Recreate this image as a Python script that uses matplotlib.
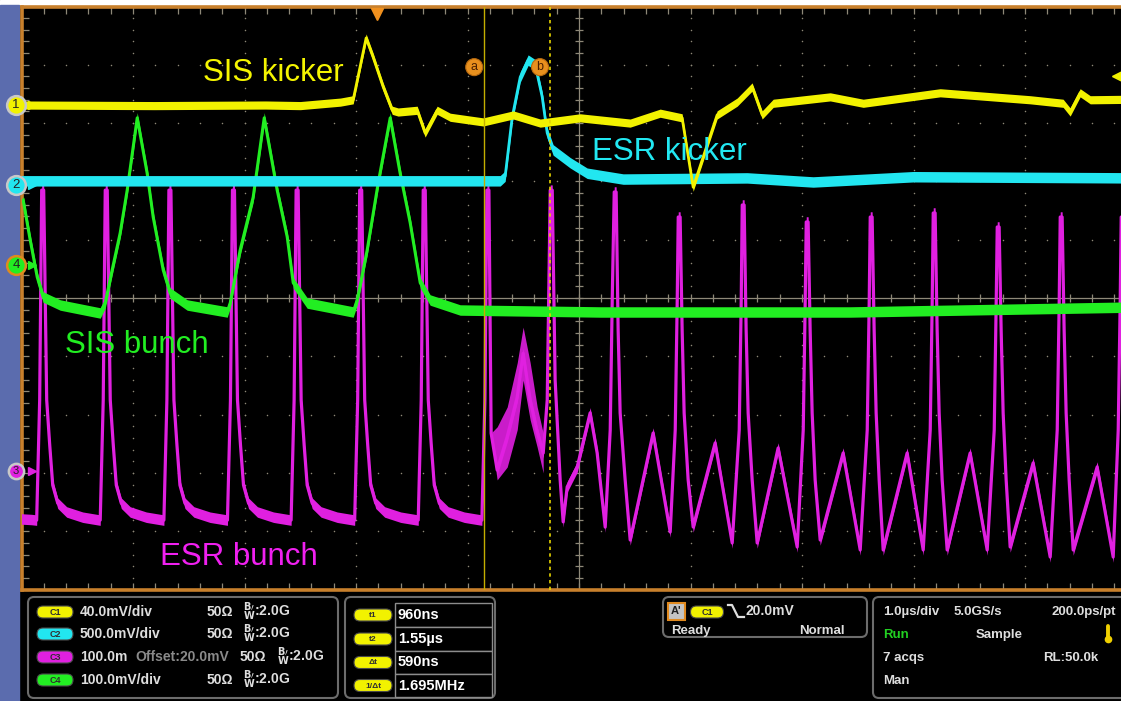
import numpy as np
import matplotlib.pyplot as plt
from matplotlib.patches import FancyBboxPatch, Rectangle

plt.rcParams['font.family'] = ['Liberation Sans', 'DejaVu Sans']

# screen: 10 x 10 divisions, 1.0 us/div, trigger at t = 0
T_LEFT = -3.19
CURSOR_T1 = 0.96
CURSOR_T2 = 1.55
C1_MV_DIV = 40.0
TRIG_MV = 20.0

# channel ground markers (div)
CH_POS = {'1': 3.31, '2': 1.94, '4': 0.566, '3': -2.97}

# C1 - SIS kicker (t in us, level in div)
c1_t = [-3.19, -2.0, -1.0, -0.69, -0.33, -0.215, -0.099, -0.036, 0.054, 0.135, 0.188,
        0.359, 0.430, 0.538, 0.655, 0.951, 1.220, 1.462, 1.821, 2.269, 2.538, 2.735,
        2.834, 2.924, 3.049, 3.229, 3.363, 3.453, 3.552, 4.063, 4.359, 5.049, 5.857,
        6.152, 6.215, 6.305, 6.395, 6.81]
c1_v = [3.31, 3.30, 3.31, 3.30, 3.36, 3.40, 4.46, 4.13, 3.62, 3.22, 3.19,
        3.22, 2.83, 3.22, 3.10, 3.02, 3.14, 3.00, 3.09, 3.00, 3.17, 3.09,
        1.90, 2.42, 3.14, 3.36, 3.62, 3.14, 3.34, 3.45, 3.34, 3.52, 3.40,
        3.34, 3.19, 3.52, 3.40, 3.41]

# C2 - ESR kicker
c2_t = [-3.19, 1.103, 1.148, 1.211, 1.283, 1.354, 1.417, 1.480, 1.525, 1.578,
        1.731, 1.883, 2.206, 3.318, 3.910, 4.807, 6.81]
c2_v = [2.01, 2.01, 2.09, 3.10, 3.79, 4.08, 4.00, 3.45, 2.83, 2.54,
        2.32, 2.14, 2.04, 2.06, 1.99, 2.08, 2.06]

# C4 - SIS bunch
c4_t = [-3.175, -3.112, -3.049, -2.996, -2.843, -2.484, -2.439, -2.377, -2.305, -2.242,
        -2.152, -2.063, -2.009, -1.919, -1.857, -1.704, -1.345, -1.318, -1.229, -1.112,
        -1.013, -0.897, -0.807, -0.753, -0.628, -0.215, -0.179, -0.090, 0.009, 0.117,
        0.206, 0.296, 0.386, 0.475, 0.744, 2.0, 4.242, 6.81]
c4_v = [1.68, 0.995, 0.36, 0.017, -0.12, -0.257, -0.086, 0.48, 1.115, 1.85,
        3.09, 2.14, 1.39, 0.48, 0.086, -0.12, -0.24, -0.086, 0.82, 1.73,
        3.09, 1.85, 1.05, 0.26, -0.086, -0.24, -0.034, 0.82, 1.97, 3.09,
        2.14, 1.29, 0.26, -0.034, -0.206, -0.24, -0.24, -0.154]

# C3 - ESR bunch
c3_t = [-3.19, -3.10,
        -3.054, -3.027, -3.009, -2.991, -2.964, -2.937, -2.910, -2.865, -2.785, -2.641,
        -2.484, -2.457, -2.439, -2.421, -2.394, -2.367, -2.340, -2.295, -2.215, -2.071,
        -1.913, -1.886, -1.868, -1.850, -1.823, -1.796, -1.769, -1.724, -1.644, -1.500,
        -1.343, -1.316, -1.298, -1.280, -1.253, -1.226, -1.199, -1.154, -1.074, -0.930,
        -0.772, -0.745, -0.727, -0.709, -0.682, -0.655, -0.628, -0.583, -0.503, -0.359,
        -0.202, -0.175, -0.157, -0.139, -0.112, -0.085, -0.058, -0.013, 0.067, 0.211,
        0.368, 0.395, 0.413, 0.431, 0.458, 0.485, 0.512, 0.557, 0.637, 0.781,
        0.939, 0.966, 0.984, 1.002, 1.022, 1.076, 1.166, 1.256, 1.309, 1.372, 1.435, 1.489,
        1.525, 1.552, 1.570, 1.596, 1.641, 1.668, 1.704, 1.794, 1.910, 1.973, 2.045,
        2.090, 2.108, 2.126, 2.143, 2.161, 2.179, 2.224, 2.269, 2.475, 2.628,
        2.673, 2.691, 2.700, 2.717, 2.735, 2.753, 2.789, 2.834, 3.031, 3.184,
        3.247, 3.265, 3.274, 3.291, 3.309, 3.327, 3.363, 3.408, 3.596, 3.767,
        3.821, 3.839, 3.848, 3.865, 3.883, 3.901, 3.928, 3.973, 4.179, 4.332,
        4.395, 4.413, 4.422, 4.439, 4.457, 4.475, 4.502, 4.538, 4.753, 4.897,
        4.960, 4.978, 4.987, 5.004, 5.022, 5.040, 5.067, 5.112, 5.318, 5.471,
        5.534, 5.552, 5.561, 5.578, 5.596, 5.614, 5.641, 5.677, 5.883, 6.036,
        6.099, 6.117, 6.126, 6.143, 6.161, 6.179, 6.206, 6.242, 6.457, 6.601,
        6.646, 6.664, 6.673, 6.691, 6.709, 6.75]
c3_v = [-3.79, -3.80,
        -3.81, -1.75, 1.85, 1.85, -1.75, -2.52, -3.21, -3.52, -3.67, -3.76,
        -3.81, -1.75, 1.85, 1.85, -1.75, -2.52, -3.21, -3.52, -3.67, -3.76,
        -3.81, -1.75, 1.85, 1.85, -1.75, -2.52, -3.21, -3.52, -3.67, -3.76,
        -3.81, -1.75, 1.85, 1.85, -1.75, -2.52, -3.21, -3.52, -3.67, -3.76,
        -3.81, -1.75, 1.85, 1.85, -1.75, -2.52, -3.21, -3.52, -3.67, -3.76,
        -3.81, -1.75, 1.85, 1.85, -1.75, -2.52, -3.21, -3.52, -3.67, -3.76,
        -3.81, -1.75, 1.85, 1.85, -1.75, -2.52, -3.21, -3.52, -3.67, -3.76,
        -3.81, -1.75, 1.85, 1.85, -2.32, -2.95, -2.38, -1.70, -0.95, -1.75, -2.30, -2.66,
        -1.75, 1.85, 1.85, -1.41, -3.12, -3.84, -3.24, -2.90, -1.97, -2.66, -3.93,
        -2.264, -0.034, 1.818, 1.818, -0.549, -1.973, -3.122, -4.151, -2.316, -4.014,
        -2.264, -0.034, 1.389, 1.389, -0.549, -1.973, -3.122, -3.928, -2.487, -4.202,
        -2.264, -0.034, 1.595, 1.595, -0.549, -1.973, -3.122, -4.202, -2.573, -4.271,
        -2.264, -0.034, 1.304, 1.304, -0.549, -1.973, -3.122, -4.151, -2.659, -4.322,
        -2.264, -0.034, 1.389, 1.389, -0.549, -1.973, -3.122, -4.322, -2.659, -4.322,
        -2.264, -0.034, 1.458, 1.458, -0.549, -1.973, -3.122, -4.322, -2.659, -4.322,
        -2.264, -0.034, 1.218, 1.218, -0.549, -1.973, -3.122, -4.271, -2.830, -4.443,
        -2.264, -0.034, 1.389, 1.389, -0.549, -1.973, -3.122, -4.322, -2.899, -4.443,
        -2.264, -0.034, 1.389, 1.389, -0.549, -2.0]

# noisy burst on C3 between the cursors (upper / lower envelope)
burst_t = [1.03, 1.076, 1.166, 1.256, 1.309, 1.372, 1.435, 1.489]
burst_hi = [-2.30, -2.21, -1.87, -1.11, -0.50, -1.11, -1.87, -2.32]
burst_lo = [-2.50, -3.12, -2.90, -2.26, -1.41, -2.09, -2.56, -3.00]

YEL, CYA, GRN, MAG = '#f2f200', '#22e6f0', '#22ee22', '#e020e0'
ORANGE = '#c8802c'
GRAT = '#8e8878'

fig = plt.figure(figsize=(11.21, 7.01), dpi=100, facecolor='black')

# background / frame layer in pixel coordinates
bg = fig.add_axes([0, 0, 1, 1])
bg.set_xlim(0, 1121)
bg.set_ylim(701, 0)
bg.axis('off')
bg.add_patch(Rectangle((0, 0), 1121, 5, color='white'))
bg.add_patch(Rectangle((0, 5), 19, 696, color='#5b6cae'))

# scope screen
ax = fig.add_axes([21.5 / 1121, (701 - 589.5) / 701, 1115 / 1121, 583 / 701],
                  facecolor='black')
ax.set_xlim(T_LEFT, T_LEFT + 10)
ax.set_ylim(-5, 5)
for s in ax.spines.values():
    s.set_color(ORANGE)
    s.set_linewidth(2.6)
ax.set_xticks(T_LEFT + np.arange(0, 11))
ax.set_xticks(T_LEFT + np.arange(0, 10.01, 0.2), minor=True)
ax.set_yticks(np.arange(-5, 6))
ax.set_yticks(np.arange(-5, 5.01, 0.2), minor=True)
ax.tick_params(which='both', direction='in', length=5, width=0.9, color=GRAT,
               top=True, right=True, labelbottom=False, labelleft=False)

# graticule dots
tt = T_LEFT + np.arange(0, 10.01, 0.2)
for v in range(-4, 5):
    if v != 0:
        ax.scatter(tt, np.full(tt.size, v), s=1.2, color=GRAT, lw=0)
vv = np.arange(-5, 5.01, 0.2)
for k in range(1, 10):
    if k != 5:
        ax.scatter(np.full(vv.size, T_LEFT + k), vv, s=1.2, color=GRAT, lw=0)
ax.axhline(0, color=GRAT, lw=0.9)
ax.axvline(T_LEFT + 5, color=GRAT, lw=0.9)
ax.scatter(tt, np.zeros(tt.size), marker='|', s=30, color=GRAT, lw=0.9)
ax.scatter(np.full(vv.size, T_LEFT + 5), vv, marker='_', s=40, color=GRAT, lw=0.9)


def trace(t, v, hw, color, z, lw=1.8):
    t = np.asarray(t)
    v = np.asarray(v)
    ax.fill_between(t, v - hw, v + hw, color=color, lw=0, zorder=z)
    ax.plot(t, v, color=color, lw=lw, zorder=z)


trace(c3_t, c3_v, 0.09, MAG, 3, lw=2.3)
ax.fill_between(burst_t, burst_lo, burst_hi, color=MAG, lw=0, alpha=0.9, zorder=3)
trace(c4_t, c4_v, 0.09, GRN, 4, lw=2.2)
trace(c2_t, c2_v, 0.09, CYA, 5, lw=2.0)
trace(c1_t, c1_v, 0.07, YEL, 6, lw=2.0)

# cursors
ax.axvline(CURSOR_T1, color='#c4ae00', lw=1.0, zorder=7)
ax.axvline(CURSOR_T2, color='#e6d400', lw=1.2, ls=(0, (2, 2)), zorder=7)
for ct, lab in [(CURSOR_T1, 'a'), (CURSOR_T2, 'b')]:
    ax.annotate(lab, xy=(ct, 3.96), xytext=(-10, 0), textcoords='offset pixels',
                ha='center', va='center', fontsize=9, color='#4a2000', zorder=8,
                bbox=dict(boxstyle='circle,pad=0.2', fc='#e8901e', ec='#b86a10', lw=0.8))

# trigger position and level markers
ax.plot(0, 4.87, marker='v', ms=8, color='#f0901e', clip_on=False, zorder=9)
ax.plot(6.64, CH_POS['1'] + TRIG_MV / C1_MV_DIV, marker='<', ms=8, color=YEL,
        clip_on=False, zorder=9)

# channel ground markers
marker_style = {'1': (YEL, '#c8c8c8', 13.5), '2': (CYA, '#c8c8c8', 13.5),
                '4': (GRN, '#e08a1e', 13.5), '3': (MAG, '#c8c8c8', 11)}
for ch, pos in CH_POS.items():
    fc, ec, ms = marker_style[ch]
    ax.plot(-3.10, pos, marker='>', ms=5.5, color=fc, clip_on=False, zorder=9)
    ax.plot(-3.24, pos, marker='o', ms=ms, mfc=fc, mec=ec, mew=1.8,
            clip_on=False, zorder=10)
    ax.text(-3.24, pos, ch, ha='center', va='center', fontsize=8 if ch == '3' else 9.5,
            color='#222222', clip_on=False, zorder=11)

# trace labels
lab_kw = dict(fontsize=22.5, va='center', ha='left', zorder=12)
ax.text(-1.561, 3.86, 'SIS kicker', color='#f5f500', **lab_kw)
ax.text(1.928, 2.50, 'ESR kicker', color='#22e8f2', **lab_kw)
ax.text(-2.798, -0.806, 'SIS bunch', color='#22ee22', **lab_kw)
ax.text(-1.946, -4.44, 'ESR bunch', color='#f020f0', **lab_kw)

# ---- readout panel below the screen ----
TXT = '#dedede'


def box(x0, y0, x1, y1):
    bg.add_patch(FancyBboxPatch((x0, y0), x1 - x0, y1 - y0,
                                boxstyle='round,pad=0,rounding_size=6',
                                fc='black', ec='#6c6c6c', lw=1.5))


def pill(xc, yc, w, color, label, fs=6.5):
    h = 12
    bg.add_patch(FancyBboxPatch((xc - w / 2, yc - h / 2), w, h,
                                boxstyle='round,pad=0,rounding_size=6',
                                fc=color, ec='#4a4a4a', lw=0.8))
    bg.text(xc, yc + 0.5, label, ha='center', va='center', fontsize=fs,
            fontweight='bold', color='#303030')


def txt(x, y, s, color=TXT, fs=9.5, ha='left'):
    bg.text(x, y, s, ha=ha, va='center', fontsize=fs, fontweight='bold', color=color)


def bw(x, y):
    txt(x, y, r"$^{\mathbf{B}\prime}_{\mathbf{W}}$:2.0G", fs=10)


ch_rows = [('C1', YEL, '40.0mV/div'), ('C2', CYA, '500.0mV/div'),
           ('C3', MAG, '100.0m'), ('C4', GRN, '100.0mV/div')]
box(28, 597, 338, 698)
for i, (name, col, scale) in enumerate(ch_rows):
    y = [612, 634, 657, 680][i]
    pill(55, y, 36, col, name)
    txt(80, y, scale, fs=10)
    if name == 'C3':
        txt(135, y, 'Offset:20.0mV', color='#8a8a8a', fs=10)
        txt(240, y, '50Ω', fs=10)
        bw(277, y)
    else:
        txt(207, y, '50Ω', fs=10)
        bw(243, y)

cur_rows = [('t1', '960ns'), ('t2', '1.55µs'), ('Δt', '590ns'), ('1/Δt', '1.695MHz')]
box(345, 597, 495, 698)
edges = [603, 627, 651, 674, 697]
for i, (name, val) in enumerate(cur_rows):
    y0, y1 = edges[i], edges[i + 1]
    bg.add_patch(Rectangle((395, y0), 97, y1 - y0, fc='black', ec='#8c8c8c', lw=1))
    pill(373, (y0 + y1) / 2, 38, YEL, name, fs=6)
    txt(398, (y0 + y1) / 2, val, color='white', fs=10.5)

box(663, 597, 867, 637)
bg.add_patch(Rectangle((668, 603), 17, 17, fc='#c4c4c4', ec='#e08a20', lw=1.5))
txt(676.5, 611.5, "A'", color='#202020', fs=8, ha='center')
pill(707, 612, 33, YEL, 'C1')
bg.plot([728, 732, 738, 744], [605, 605, 617, 617], color=TXT, lw=1.6)
txt(746, 611, '20.0mV', fs=10)
txt(671, 631, 'Ready', fs=9.5)
txt(799, 631, 'Normal', fs=9.5)

box(873, 597, 1140, 698)
txt(883, 612, '1.0µs/div', fs=9.5)
txt(954, 612, '5.0GS/s', fs=9.5)
txt(1116, 612, '200.0ps/pt', fs=9.5, ha='right')
txt(883, 635, 'Run', color='#22d022', fs=9.5)
txt(976, 635, 'Sample', fs=9.5)
bg.plot([1108, 1108], [626, 637], color='#f0d000', lw=2.8, solid_capstyle='round')
bg.plot(1108, 639, marker='o', ms=4.5, color='#f0d000')
txt(883, 658, '7 acqs', fs=9.5)
txt(1043, 658, 'RL:50.0k', fs=9.5)
txt(883, 681, 'Man', fs=9.5)

fig.savefig('out.png', dpi=100, facecolor='black')
